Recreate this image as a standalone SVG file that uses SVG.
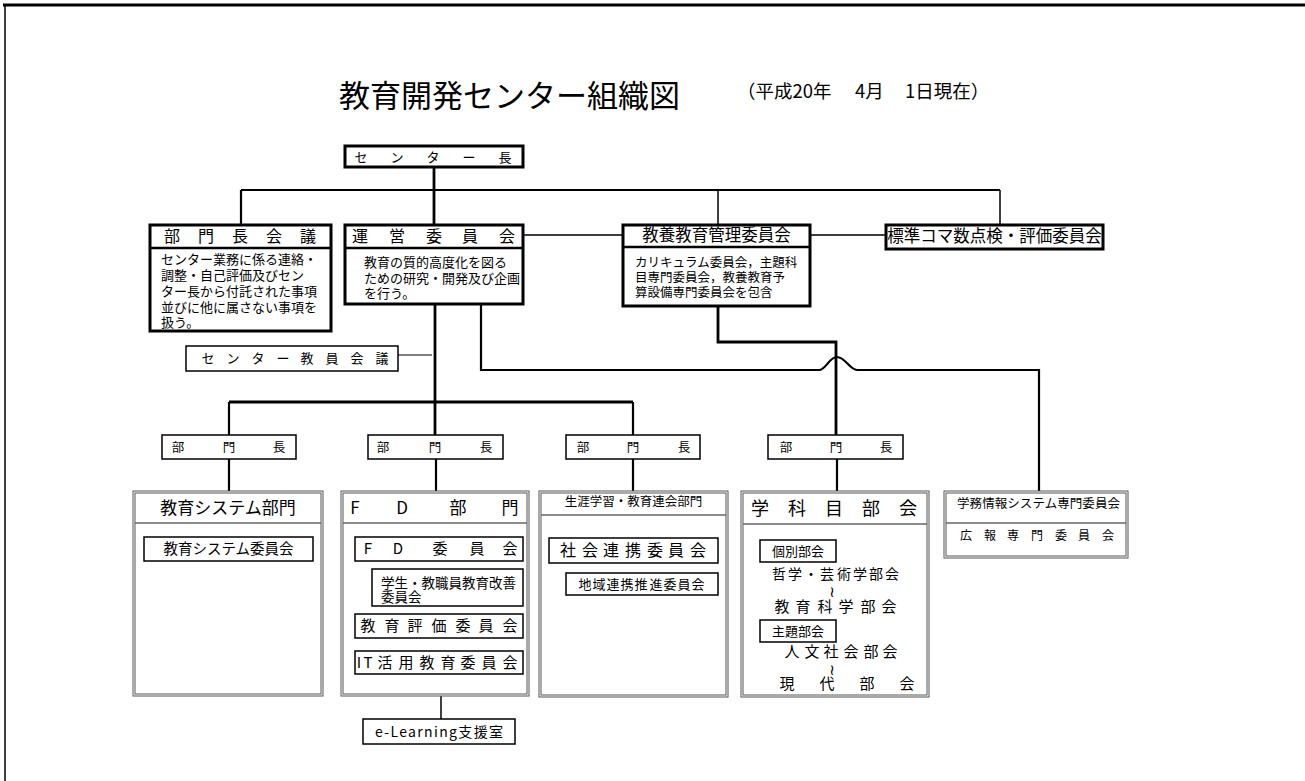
<svg xmlns="http://www.w3.org/2000/svg" width="1305" height="781" viewBox="0 0 1305 781">
<style>
text{font-family:"Noto Sans CJK JP","Noto Sans CJK SC",sans-serif;fill:#000}
.m{text-anchor:middle}
.wv{font-family:"DejaVu Sans",sans-serif;font-size:15px}
.tb{fill:#fff;stroke:#000;stroke-width:3}
.nb{fill:#fff;stroke:#000;stroke-width:1.5}
.dbo{fill:#fff;stroke:#555;stroke-width:3}
.dbi{fill:none;stroke:#fff;stroke-width:1}
.dv{stroke:#666;stroke-width:1.6}
.hd{stroke:#000;stroke-width:2.5}
.c{fill:none;stroke:#000;stroke-width:2.2}
.c3{fill:none;stroke:#000;stroke-width:2.8}
.ct{fill:none;stroke:#000;stroke-width:1.5}
.cs{fill:none;stroke:#000;stroke-width:1.2}
</style>
<rect width="1305" height="781" fill="#fff"/>
<g id="frame">
<line x1="3" y1="5" x2="1305" y2="5" stroke="#000" stroke-width="3"/>
<line x1="5" y1="4" x2="5" y2="781" stroke="#000" stroke-width="1.5"/>
</g>
<g id="title">
<text x="339" y="107" font-size="31">教育開発センター組織図</text>
<text y="98" font-size="18.5"><tspan x="737">（平成20年</tspan><tspan x="855">4月</tspan><tspan x="905">1日現在）</tspan></text>
</g>
<g id="connectors">
<path class="c3" d="M434,167V225"/>
<path class="c" d="M241,190H1000M241,190V225"/>
<path class="ct" d="M718,190V225M1000,190V225M523,235H623M810,235H886"/>
<path class="c3" d="M435,304V435"/>
<path class="c3" d="M229,402H633"/>
<path class="c" d="M229,402V435M633,402V435"/>
<path class="cs" d="M398,355H432"/>
<path class="c" d="M481,304V370H819C826,370 829,357 837,357C845,357 850,370 857,370H1039V492"/>
<path class="c3" d="M718,306V342H836V435"/>
<path class="c" d="M229,459V492M436,459V492M633,459V492M837,459V492"/>
<path class="ct" d="M441,674V719"/>
<path class="cs" d="M363,561V587H372M558,563V586H566"/>
</g>
<g id="center-head">
<rect class="tb" x="345" y="146" width="178" height="21"/>
<text class="m" x="361 397 433 469 505" y="161.5" font-size="13">センター長</text>
</g>
<g id="bumoncho-kaigi">
<rect class="tb" x="150" y="225" width="181" height="106"/>
<line class="hd" x1="150" y1="248" x2="331" y2="248"/>
<text class="m" x="172 206 240 274 308" y="242" font-size="16">部門長会議</text>
<text font-size="13"><tspan x="161" y="264">センター業務に係る連絡・</tspan><tspan x="161" y="280">調整・自己評価及びセン</tspan><tspan x="161" y="296">ター長から付託された事項</tspan><tspan x="161" y="312">並びに他に属さない事項を</tspan><tspan x="161" y="327">扱う。</tspan></text>
</g>
<g id="unei-iinkai">
<rect class="tb" x="345" y="225" width="178" height="79"/>
<line class="hd" x1="345" y1="248" x2="523" y2="248"/>
<text class="m" x="360 397 434 470 507" y="242" font-size="16">運営委員会</text>
<text font-size="13"><tspan x="364" y="267">教育の質的高度化を図る</tspan><tspan x="364" y="282.5">ための研究・開発及び企画</tspan><tspan x="364" y="298">を行う。</tspan></text>
</g>
<g id="kyoyo-kanri">
<rect class="tb" x="623" y="225" width="187" height="81"/>
<line class="hd" x1="623" y1="247" x2="810" y2="247"/>
<text class="m" x="716.5" y="241" font-size="16.5">教養教育管理委員会</text>
<text font-size="12.5"><tspan x="635" y="267">カリキュラム委員会，主題科</tspan><tspan x="635" y="282">目専門委員会，教養教育予</tspan><tspan x="635" y="297">算設備専門委員会を包含</tspan></text>
</g>
<g id="hyojun-koma">
<rect class="tb" x="886" y="225" width="217" height="24"/>
<text class="m" x="994.5" y="241.5" font-size="16.5">標準コマ数点検・評価委員会</text>
</g>
<g id="center-kyoin-kaigi">
<rect class="nb" x="186" y="346" width="212" height="25"/>
<text class="m" x="208 233 258 283 307 332 357 382" y="363" font-size="13">センター教員会議</text>
</g>
<g id="bumoncho-1">
<rect class="nb" x="162" y="435" width="134" height="24"/>
<text class="m" x="178 229 279" y="452" font-size="12.5">部門長</text>
</g>
<g id="bumoncho-2">
<rect class="nb" x="368" y="435" width="135" height="24"/>
<text class="m" x="383 435 486" y="452" font-size="12.5">部門長</text>
</g>
<g id="bumoncho-3">
<rect class="nb" x="566" y="435" width="134" height="24"/>
<text class="m" x="583 633 684" y="452" font-size="12.5">部門長</text>
</g>
<g id="bumoncho-4">
<rect class="nb" x="768" y="435" width="135" height="24"/>
<text class="m" x="786 836 886" y="452" font-size="12.5">部門長</text>
</g>
<g id="kyoiku-system-bumon">
<rect class="dbo" x="134" y="492" width="188" height="203"/>
<rect class="dbi" x="134" y="492" width="188" height="203"/>
<line class="dv" x1="135" y1="523" x2="321" y2="523"/>
<text class="m" x="228" y="514" font-size="17">教育システム部門</text>
<rect class="nb" x="144" y="537" width="169" height="24"/>
<text class="m" x="228.5" y="554" font-size="14.5">教育システム委員会</text>
</g>
<g id="fd-bumon">
<rect class="dbo" x="342" y="492" width="186" height="203"/>
<rect class="dbi" x="342" y="492" width="186" height="203"/>
<line class="dv" x1="343" y1="523" x2="527" y2="523"/>
<text class="m" x="355 402 458 510" y="514" font-size="17">FD部門</text>
<rect class="nb" x="355" y="537" width="168" height="24"/>
<text class="m" x="368 398 440 477 510" y="554" font-size="15">FD委員会</text>
<rect class="nb" x="372" y="569" width="151" height="37"/>
<text font-size="13.5"><tspan x="381" y="588">学生・教職員教育改善</tspan><tspan x="381" y="602">委員会</tspan></text>
<rect class="nb" x="355" y="614" width="168" height="24"/>
<text class="m" x="368 392 415 439 463 486 510" y="631" font-size="15">教育評価委員会</text>
<rect class="nb" x="355" y="651" width="168" height="23"/>
<text class="m" x="359 368 385 406 427 448 468 489 510" y="668" font-size="15">IT活用教育委員会</text>
</g>
<g id="shogai-gakushu-bumon">
<rect class="dbo" x="540" y="492" width="187" height="204"/>
<rect class="dbi" x="540" y="492" width="187" height="204"/>
<line class="dv" x1="541" y1="515" x2="726" y2="515"/>
<text class="m" x="633.5" y="506" font-size="12.5">生涯学習・教育連会部門</text>
<rect class="nb" x="549" y="538" width="169" height="25"/>
<text class="m" x="568 590 611 633 655 676 698" y="556" font-size="16">社会連携委員会</text>
<rect class="nb" x="566" y="573" width="152" height="22"/>
<text class="m" x="585 599 613 627 641 656 670 684 698" y="589" font-size="13">地域連携推進委員会</text>
</g>
<g id="gakkamoku-bukai">
<rect class="dbo" x="742" y="492" width="186" height="204"/>
<rect class="dbi" x="742" y="492" width="186" height="204"/>
<line class="dv" x1="743" y1="524" x2="927" y2="524"/>
<text class="m" x="760 797 834 871 908" y="515" font-size="18">学科目部会</text>
<rect class="nb" x="760" y="540" width="76" height="22"/>
<text class="m" x="798" y="556" font-size="13">個別部会</text>
<text class="m"><tspan x="779 795 811 827 844 860 876 892" y="579" font-size="14">哲学・芸術学部会</tspan><tspan class="wv" x="832" y="597">≀</tspan><tspan x="782 803 825 846 868 889" y="612" font-size="15">教育科学部会</tspan></text>
<rect class="nb" x="760" y="620" width="76" height="22"/>
<text class="m" x="798" y="636" font-size="13">主題部会</text>
<text class="m"><tspan x="792 812 831 851 871 890" y="657" font-size="15">人文社会部会</tspan><tspan class="wv" x="832" y="675">≀</tspan><tspan x="787 827 867 907" y="689" font-size="15">現代部会</tspan></text>
</g>
<g id="gakumu-koho">
<rect class="dbo" x="945" y="492" width="182" height="65"/>
<rect class="dbi" x="945" y="492" width="182" height="65"/>
<line class="dv" x1="946" y1="523" x2="1126" y2="523"/>
<text x="957" y="508" font-size="12.5" textLength="163" lengthAdjust="spacing">学務情報システム専門委員会</text>
<text class="m" x="966 990 1013 1037 1061 1084 1108" y="540" font-size="12">広報専門委員会</text>
</g>
<g id="e-learning">
<rect class="nb" x="363" y="719" width="152" height="25"/>
<text x="375" y="737" font-size="14" textLength="128" lengthAdjust="spacing">e-Learning支援室</text>
</g>
</svg>
